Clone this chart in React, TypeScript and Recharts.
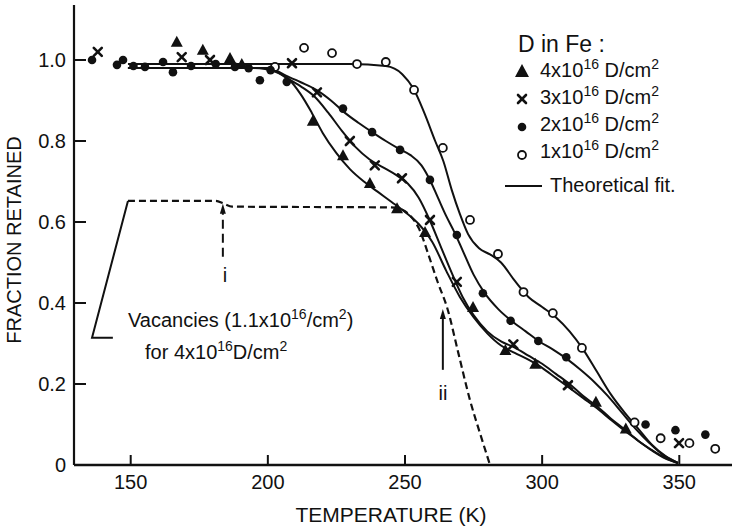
import React from 'react';
import { ComposedChart, Line, Scatter, XAxis, YAxis, ReferenceLine, Customized } from 'recharts';

const xTicks = [150, 200, 250, 300, 350];
const yTicks = [0, 0.2, 0.4, 0.6, 0.8, 1.0];

// Measured points
const pts4e16 = [
  { x: 166.8, y: 1.045 }, { x: 176.3, y: 1.025 }, { x: 186.2, y: 1.005 }, { x: 190.5, y: 0.99 },
  { x: 216.4, y: 0.85 }, { x: 227.4, y: 0.765 }, { x: 237.2, y: 0.696 }, { x: 247.1, y: 0.634 },
  { x: 257.3, y: 0.575 }, { x: 274.8, y: 0.39 }, { x: 286.6, y: 0.284 }, { x: 297.5, y: 0.25 },
  { x: 319.6, y: 0.156 }, { x: 330.5, y: 0.09 },
];
const pts3e16 = [
  { x: 138, y: 1.02 }, { x: 168.6, y: 1.007 }, { x: 178.9, y: 1.0 }, { x: 208.8, y: 0.992 },
  { x: 217.9, y: 0.92 }, { x: 229.9, y: 0.8 }, { x: 239, y: 0.74 }, { x: 248.9, y: 0.708 },
  { x: 259.1, y: 0.605 }, { x: 268.9, y: 0.452 }, { x: 289.5, y: 0.298 }, { x: 309.4, y: 0.197 },
  { x: 349.9, y: 0.054 },
];
const pts2e16 = [
  { x: 135.9, y: 1.0 }, { x: 145, y: 0.988 }, { x: 147.2, y: 1.0 }, { x: 151, y: 0.985 },
  { x: 155.2, y: 0.983 }, { x: 161.8, y: 0.995 }, { x: 165.4, y: 0.97 }, { x: 172, y: 0.985 },
  { x: 181, y: 0.99 }, { x: 188, y: 0.983 }, { x: 193, y: 0.98 }, { x: 197.1, y: 0.95 },
  { x: 201, y: 0.975 }, { x: 206.9, y: 0.946 }, { x: 227.4, y: 0.88 }, { x: 238, y: 0.822 },
  { x: 248.2, y: 0.778 }, { x: 259.1, y: 0.704 }, { x: 268.9, y: 0.568 }, { x: 278.4, y: 0.424 },
  { x: 288.5, y: 0.356 }, { x: 298.6, y: 0.306 }, { x: 308.8, y: 0.266 }, { x: 337.7, y: 0.1 },
  { x: 348.6, y: 0.086 }, { x: 359.5, y: 0.075 },
];
const pts1e16 = [
  { x: 202.6, y: 0.983 }, { x: 213.2, y: 1.03 }, { x: 223.4, y: 1.017 }, { x: 232.5, y: 0.99 },
  { x: 243, y: 0.995 }, { x: 253.3, y: 0.926 }, { x: 263.8, y: 0.783 }, { x: 273.7, y: 0.605 },
  { x: 283.9, y: 0.521 }, { x: 293.2, y: 0.427 }, { x: 303.9, y: 0.375 }, { x: 314.5, y: 0.289 },
  { x: 333.7, y: 0.105 }, { x: 343.2, y: 0.066 }, { x: 353.7, y: 0.054 }, { x: 363.1, y: 0.04 },
];

// Theoretical fits
const fit4e16 = [
  { x: 149, y: 0.98 }, { x: 195, y: 0.98 }, { x: 203, y: 0.97 }, { x: 208, y: 0.95 }, { x: 212, y: 0.915 },
  { x: 216, y: 0.87 }, { x: 220, y: 0.82 }, { x: 225, y: 0.77 }, { x: 230, y: 0.73 }, { x: 235, y: 0.7 },
  { x: 240, y: 0.675 }, { x: 245, y: 0.65 }, { x: 250, y: 0.625 }, { x: 255, y: 0.595 }, { x: 260, y: 0.55 },
  { x: 265, y: 0.48 }, { x: 270, y: 0.415 }, { x: 275, y: 0.365 }, { x: 280, y: 0.325 }, { x: 285, y: 0.295 },
  { x: 290, y: 0.277 }, { x: 295, y: 0.26 }, { x: 300, y: 0.24 }, { x: 305, y: 0.215 }, { x: 310, y: 0.19 },
  { x: 315, y: 0.165 }, { x: 320, y: 0.14 }, { x: 325, y: 0.112 }, { x: 330, y: 0.085 }, { x: 335, y: 0.06 },
  { x: 340, y: 0.036 }, { x: 345, y: 0.016 }, { x: 349.5, y: 0.005 },
];
const fit3e16 = [
  { x: 149, y: 0.98 }, { x: 200, y: 0.98 }, { x: 207, y: 0.955 }, { x: 212, y: 0.935 }, { x: 217, y: 0.91 },
  { x: 222, y: 0.87 }, { x: 227, y: 0.825 }, { x: 232, y: 0.785 }, { x: 237, y: 0.755 }, { x: 242, y: 0.735 },
  { x: 247, y: 0.715 }, { x: 251, y: 0.695 }, { x: 255, y: 0.66 }, { x: 259, y: 0.605 }, { x: 263, y: 0.54 },
  { x: 267, y: 0.475 }, { x: 271, y: 0.415 }, { x: 275, y: 0.37 }, { x: 280, y: 0.33 }, { x: 285, y: 0.305 },
  { x: 290, y: 0.29 }, { x: 295, y: 0.27 }, { x: 300, y: 0.25 }, { x: 305, y: 0.225 }, { x: 310, y: 0.2 },
  { x: 315, y: 0.17 }, { x: 320, y: 0.145 }, { x: 325, y: 0.115 }, { x: 330, y: 0.088 }, { x: 335, y: 0.06 },
  { x: 340, y: 0.037 }, { x: 345, y: 0.017 }, { x: 349.5, y: 0.005 },
];
const fit2e16 = [
  { x: 149, y: 0.98 }, { x: 200, y: 0.98 }, { x: 207, y: 0.96 }, { x: 212, y: 0.945 }, { x: 218, y: 0.925 },
  { x: 223, y: 0.9 }, { x: 228, y: 0.87 }, { x: 233, y: 0.845 }, { x: 238, y: 0.822 }, { x: 243, y: 0.8 },
  { x: 248, y: 0.78 }, { x: 252, y: 0.765 }, { x: 256, y: 0.74 }, { x: 259, y: 0.705 }, { x: 262, y: 0.66 },
  { x: 265, y: 0.615 }, { x: 268, y: 0.575 }, { x: 271, y: 0.53 }, { x: 275, y: 0.47 }, { x: 279, y: 0.425 },
  { x: 284, y: 0.385 }, { x: 289, y: 0.355 }, { x: 294, y: 0.33 }, { x: 299, y: 0.305 }, { x: 304, y: 0.285 },
  { x: 309, y: 0.262 }, { x: 314, y: 0.235 }, { x: 319, y: 0.205 }, { x: 324, y: 0.17 }, { x: 329, y: 0.13 },
  { x: 334, y: 0.09 }, { x: 339, y: 0.055 }, { x: 344, y: 0.025 }, { x: 349.5, y: 0.005 },
];
const fit1e16 = [
  { x: 149, y: 0.99 }, { x: 200, y: 0.99 }, { x: 230, y: 0.99 }, { x: 243, y: 0.985 }, { x: 249, y: 0.965 },
  { x: 253, y: 0.93 }, { x: 257, y: 0.87 }, { x: 261, y: 0.8 }, { x: 264, y: 0.75 }, { x: 267, y: 0.68 },
  { x: 270, y: 0.62 }, { x: 273, y: 0.57 }, { x: 277, y: 0.535 }, { x: 281, y: 0.52 }, { x: 285, y: 0.5 },
  { x: 290, y: 0.455 }, { x: 295, y: 0.415 }, { x: 300, y: 0.39 }, { x: 305, y: 0.365 }, { x: 310, y: 0.33 },
  { x: 315, y: 0.285 }, { x: 320, y: 0.23 }, { x: 325, y: 0.175 }, { x: 330, y: 0.13 }, { x: 335, y: 0.09 },
  { x: 340, y: 0.05 }, { x: 345, y: 0.022 }, { x: 349.5, y: 0.005 },
];

// Vacancy profile (dashed) and its bracket line
const vacancyFit = [
  { x: 149, y: 0.652 }, { x: 181, y: 0.652 }, { x: 184, y: 0.645 }, { x: 187, y: 0.638 }, { x: 245, y: 0.636 },
  { x: 249, y: 0.63 }, { x: 252, y: 0.615 }, { x: 255, y: 0.585 }, { x: 259, y: 0.51 }, { x: 262, y: 0.45 },
  { x: 265.3, y: 0.39 }, { x: 269.5, y: 0.275 }, { x: 273.7, y: 0.16 }, { x: 277.5, y: 0.075 }, { x: 281, y: 0 },
];
const vacancyBracket = [
  { x: 149, y: 0.652 }, { x: 135.9, y: 0.314 }, { x: 143.5, y: 0.314 },
];

// Arrows (i and ii)
const arrowI = [{ x: 183.6, y: 0.514 }, { x: 183.6, y: 0.63 }];
const arrowIHead = [{ x: 183.6, y: 0.645 }];
const arrowII = [{ x: 263.8, y: 0.235 }, { x: 263.8, y: 0.37 }];
const arrowIIHead = [{ x: 263.8, y: 0.385 }];

const INK = '#111';
const FONT = '"Liberation Sans", Arial, Helvetica, sans-serif';

const TriShape = (p: any) => {
  const { cx, cy } = p;
  if (cx == null || cy == null) return null;
  return <polygon points={`${cx},${cy - 6} ${cx - 6},${cy + 5} ${cx + 6},${cy + 5}`} fill={INK} />;
};
const XShape = (p: any) => {
  const { cx, cy } = p;
  if (cx == null || cy == null) return null;
  const s = 4;
  return (
    <g stroke={INK} strokeWidth={2.6} strokeLinecap="round">
      <line x1={cx - s} y1={cy - s} x2={cx + s} y2={cy + s} />
      <line x1={cx - s} y1={cy + s} x2={cx + s} y2={cy - s} />
    </g>
  );
};
const DotShape = (p: any) => {
  const { cx, cy } = p;
  if (cx == null || cy == null) return null;
  return <circle cx={cx} cy={cy} r={4.3} fill={INK} />;
};
const OpenShape = (p: any) => {
  const { cx, cy } = p;
  if (cx == null || cy == null) return null;
  return <circle cx={cx} cy={cy} r={4} fill="#fff" stroke={INK} strokeWidth={1.8} />;
};
const ArrowHeadShape = (p: any) => {
  const { cx, cy } = p;
  if (cx == null || cy == null) return null;
  return <polygon points={`${cx},${cy} ${cx - 3},${cy + 10} ${cx + 3},${cy + 10}`} fill={INK} />;
};

const BottomTick = (p: any) => {
  const { x, payload } = p;
  return (
    <g>
      <line x1={x} x2={x} y1={465} y2={455} stroke={INK} strokeWidth={2} />
      <text x={x} y={489} textAnchor="middle" fontSize={20} fontFamily={FONT} fill={INK}>{payload.value}</text>
    </g>
  );
};
const TopTick = (p: any) => {
  const { x } = p;
  return <line x1={x} x2={x} y1={5} y2={15} stroke={INK} strokeWidth={2} />;
};
const LeftTick = (p: any) => {
  const { y, payload } = p;
  const v = payload.value;
  const label = v === 0 ? '0' : v.toFixed(1);
  return (
    <g>
      <line x1={74} x2={86} y1={y} y2={y} stroke={INK} strokeWidth={2} />
      <text x={66} y={y + 7} textAnchor="end" fontSize={20} fontFamily={FONT} fill={INK}>{label}</text>
    </g>
  );
};
const RightTick = (p: any) => {
  const { y } = p;
  return <line x1={733} x2={721} y1={y} y2={y} stroke={INK} strokeWidth={2} />;
};

const Sup = ({ children }: any) => (
  <>
    <tspan dy={-8} fontSize={14}>{children}</tspan>
  </>
);

const Annotations = () => (
  <g fontFamily={FONT} fill={INK}>
    <text x={391} y={522} textAnchor="middle" fontSize={21}>TEMPERATURE (K)</text>
    <text transform="translate(21,240) rotate(-90)" textAnchor="middle" fontSize={20}>FRACTION RETAINED</text>
    <text x={225} y={282} textAnchor="middle" fontSize={20}>i</text>
    <text x={443} y={400} textAnchor="middle" fontSize={20}>ii</text>
    <text x={128} y={327} fontSize={20}>
      Vacancies (1.1x10<Sup>16</Sup><tspan dy={8}>/cm</tspan><Sup>2</Sup><tspan dy={8}>)</tspan>
    </text>
    <text x={145} y={359} fontSize={20}>
      for 4x10<Sup>16</Sup><tspan dy={8}>D/cm</tspan><Sup>2</Sup>
    </text>
    {/* legend */}
    <text x={518} y={52} fontSize={23}>D in Fe :</text>
    <polygon points="522,64 515,77 529,77" fill={INK} />
    <text x={540} y={77} fontSize={20}>4x10<Sup>16</Sup><tspan dy={8}> D/cm</tspan><Sup>2</Sup></text>
    <g stroke={INK} strokeWidth={2.6} strokeLinecap="round">
      <line x1={518} y1={95} x2={526} y2={103} />
      <line x1={518} y1={103} x2={526} y2={95} />
    </g>
    <text x={540} y={104} fontSize={20}>3x10<Sup>16</Sup><tspan dy={8}> D/cm</tspan><Sup>2</Sup></text>
    <circle cx={522} cy={127} r={4.3} fill={INK} />
    <text x={540} y={131} fontSize={20}>2x10<Sup>16</Sup><tspan dy={8}> D/cm</tspan><Sup>2</Sup></text>
    <circle cx={522} cy={155} r={4} fill="#fff" stroke={INK} strokeWidth={1.8} />
    <text x={540} y={158} fontSize={20}>1x10<Sup>16</Sup><tspan dy={8}> D/cm</tspan><Sup>2</Sup></text>
    <line x1={505} x2={542} y1={186} y2={186} stroke={INK} strokeWidth={2} />
    <text x={550} y={192} fontSize={20}>Theoretical fit.</text>
  </g>
);

export default function App() {
  const fitProps = {
    dataKey: 'y',
    type: 'monotone' as const,
    stroke: INK,
    strokeWidth: 2,
    dot: false,
    activeDot: false,
    isAnimationActive: false,
    legendType: 'none' as const,
  };
  return (
    <div style={{ position: 'absolute', left: 0, top: 0, width: 732, height: 530, overflow: 'hidden', background: '#fff' }}>
      <ComposedChart width={736} height={530} margin={{ top: 5, right: 3, bottom: 0, left: 0 }}>
        <XAxis
          xAxisId="b"
          dataKey="x"
          type="number"
          domain={[129.33, 369.58]}
          ticks={xTicks}
          allowDataOverflow
          height={65}
          axisLine={{ stroke: INK, strokeWidth: 2.5 }}
          tickLine={false}
          tick={<BottomTick />}
        />
        <XAxis
          xAxisId="t"
          orientation="top"
          dataKey="x"
          type="number"
          domain={[129.33, 369.58]}
          ticks={xTicks}
          allowDataOverflow
          height={0}
          axisLine={{ stroke: INK, strokeWidth: 2 }}
          tickLine={false}
          tick={<TopTick />}
        />
        <YAxis
          yAxisId="l"
          dataKey="y"
          type="number"
          domain={[0, 1.1358]}
          ticks={yTicks}
          allowDataOverflow
          width={74}
          axisLine={{ stroke: INK, strokeWidth: 2.2 }}
          tickLine={false}
          tick={<LeftTick />}
        />
        <YAxis
          yAxisId="r"
          orientation="right"
          dataKey="y"
          type="number"
          domain={[0, 1.1358]}
          ticks={yTicks}
          allowDataOverflow
          width={0}
          axisLine={{ stroke: INK, strokeWidth: 2 }}
          tickLine={false}
          tick={<RightTick />}
        />

        <Line xAxisId="b" yAxisId="l" data={fit1e16} {...fitProps} />
        <Line xAxisId="b" yAxisId="l" data={fit2e16} {...fitProps} />
        <Line xAxisId="b" yAxisId="l" data={fit3e16} {...fitProps} />
        <Line xAxisId="b" yAxisId="l" data={fit4e16} {...fitProps} />
        <Line xAxisId="b" yAxisId="l" data={vacancyFit} {...fitProps} strokeDasharray="7 4" strokeWidth={2.2} />
        <Line xAxisId="b" yAxisId="l" data={vacancyBracket} {...fitProps} type="linear" />

        <ReferenceLine xAxisId="b" yAxisId="l" segment={arrowI} stroke={INK} strokeWidth={2} strokeDasharray="9 5" />
        <ReferenceLine xAxisId="b" yAxisId="l" segment={arrowII} stroke={INK} strokeWidth={2} />
        <Scatter xAxisId="b" yAxisId="l" data={arrowIHead} dataKey="y" shape={ArrowHeadShape} isAnimationActive={false} legendType="none" />
        <Scatter xAxisId="b" yAxisId="l" data={arrowIIHead} dataKey="y" shape={ArrowHeadShape} isAnimationActive={false} legendType="none" />

        <Scatter xAxisId="b" yAxisId="l" data={pts1e16} dataKey="y" shape={OpenShape} isAnimationActive={false} />
        <Scatter xAxisId="b" yAxisId="l" data={pts2e16} dataKey="y" shape={DotShape} isAnimationActive={false} />
        <Scatter xAxisId="b" yAxisId="l" data={pts3e16} dataKey="y" shape={XShape} isAnimationActive={false} />
        <Scatter xAxisId="b" yAxisId="l" data={pts4e16} dataKey="y" shape={TriShape} isAnimationActive={false} />

        <Customized component={<Annotations />} />
      </ComposedChart>
    </div>
  );
}
